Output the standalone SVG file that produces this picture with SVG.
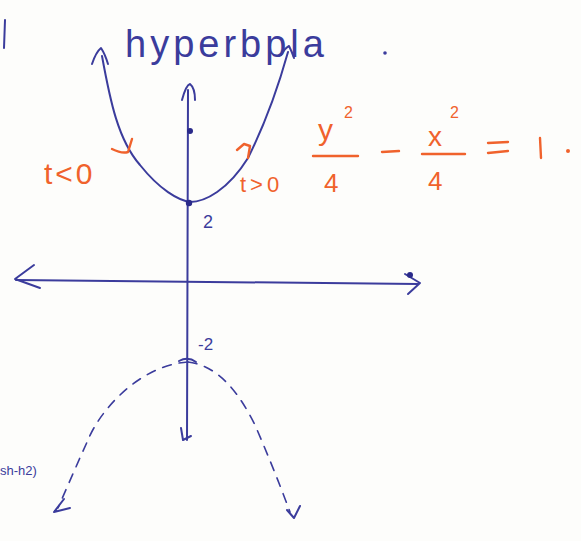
<svg xmlns="http://www.w3.org/2000/svg" width="581" height="541" viewBox="0 0 581 541">
<style>
.ink{fill:none;stroke:#3b3c9c;stroke-width:2;stroke-linecap:round;stroke-linejoin:round}
.dash{fill:none;stroke:#3b3c9c;stroke-width:1.6;stroke-dasharray:9 8;stroke-linecap:round}
.or{fill:none;stroke:#f0622c;stroke-width:2.4;stroke-linecap:round;stroke-linejoin:round}
.bt{fill:#3b3c9c;font-family:"Liberation Sans",sans-serif}
.ot{fill:#f0622c;font-family:"Liberation Sans",sans-serif}
</style>
<rect width="581" height="541" fill="#fdfdfb"/>
<path class="ink" d="M5 20 L4 48"/>
<g id="title"><text class="bt" x="125" y="57" font-size="38" letter-spacing="4">hyperbpla</text><circle cx="385" cy="53" r="1.8" fill="#3b3c9c"/></g>
<g id="connectors">
<g id="y-axis"><path class="ink" d="M188 90 L187 440"/><path class="ink" d="M182 100 Q186 85 190 84 Q195 88 195 100"/><path class="ink" d="M181 428 L183 440 L191 436"/><circle cx="190" cy="131" r="3" fill="#2a2a8a"/></g>
<g id="x-axis"><path class="ink" d="M16 280 L418 284"/><path class="ink" d="M34 265 L15 279 L40 288"/><path class="ink" d="M405 274 L420 283 L408 294"/><circle cx="410" cy="275" r="3" fill="#2a2a8a"/></g>
<g id="upper-branch"><path class="ink" d="M102 56 C110 100 118 140 140 165 C160 190 178 200 190 202 C205 202 228 190 248 158 C262 130 276 95 288 52"/><path class="ink" d="M92 64 Q96 52 101 48 Q105 54 108 64"/><path class="ink" d="M281 55 Q285 48 289 46 Q292 52 294 58"/><circle cx="189" cy="203" r="3.2" fill="#2a2a8a"/></g>
<g id="lower-branch"><path class="dash" d="M188 362 C140 365 100 410 88 440 C78 462 68 485 58 508"/><path class="dash" d="M188 362 C220 366 240 395 255 425 C268 455 280 485 290 512"/><path class="ink" d="M179 361 Q188 356 196 362"/><path class="ink" d="M64 499 L54 512 L70 508"/><path class="ink" d="M287 510 L294 518 L300 506"/></g>
</g>
<g id="t-marks"><path class="or" d="M112 149 Q122 154 128 152 L132 139"/><path class="or" d="M237 150 L244 144 L250 146 L248 158"/></g>
<g id="label-tneg"><text class="ot" x="44" y="184" font-size="30" letter-spacing="3">t&lt;0</text></g>
<g id="label-tpos"><text class="ot" x="240" y="192" font-size="22" letter-spacing="4">t&gt;0</text></g>
<g id="label-2"><text class="bt" x="203" y="228" font-size="18">2</text></g>
<g id="label-m2"><text class="bt" x="198" y="350" font-size="17">-2</text></g>
<g id="label-sh"><text class="bt" x="0" y="475" font-size="13">sh-h2)</text></g>
<g id="equation">
<text class="ot" x="318" y="140" font-size="30">y</text><text class="ot" x="344" y="118" font-size="16">2</text>
<path class="or" d="M313 156 L358 156"/>
<text class="ot" x="324" y="192" font-size="26">4</text>
<path class="or" d="M382 152 L399 151"/>
<text class="ot" x="428" y="146" font-size="28">x</text><text class="ot" x="450" y="118" font-size="16">2</text>
<path class="or" d="M422 154 L465 154"/>
<text class="ot" x="428" y="190" font-size="26">4</text>
<path class="or" d="M488 143 L508 142 M488 153 L508 151 M540 138 L541 158"/>
<circle cx="568" cy="151" r="2" fill="#f0622c"/>
</g>
</svg>
